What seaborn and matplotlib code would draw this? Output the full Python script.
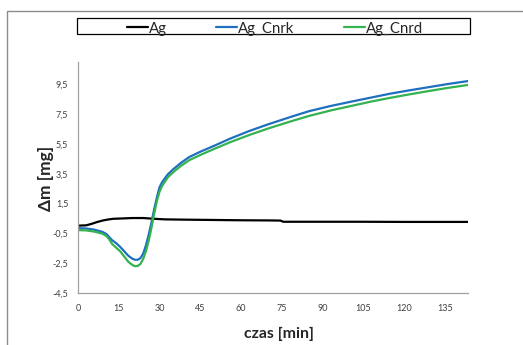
import numpy as np
import pandas as pd
import matplotlib
matplotlib.use("Agg")
import matplotlib.pyplot as plt
from matplotlib.patches import Rectangle
import seaborn as sns

# Ag - reference sample
t_ag = [0, 3, 5, 7, 9, 11, 13, 16, 20, 24, 28, 32, 40, 50, 60, 70, 74.5, 75.5, 90, 105, 120, 135, 143.5]
ag = [0.02, 0.04, 0.14, 0.26, 0.36, 0.43, 0.48, 0.5, 0.53, 0.53, 0.48, 0.44, 0.42, 0.4, 0.38, 0.37, 0.36,
      0.28, 0.28, 0.28, 0.27, 0.27, 0.27]

# Ag_Cnrk / Ag_Cnrd
t_cn = [0, 3, 6, 9, 10.5, 11.5, 12.5, 14, 15.5, 17, 18.5, 20, 21, 22, 23, 24, 25, 26, 27, 28, 29, 30, 31,
        33, 35, 38, 41, 45, 50, 56, 63, 70, 78, 85, 93, 100, 108, 115, 122, 129, 136, 143.5]
cnrk = [-0.15, -0.17, -0.25, -0.4, -0.55, -0.75, -0.95, -1.15, -1.4, -1.7, -2.0, -2.2, -2.27, -2.27, -2.15,
        -1.85, -1.3, -0.6, 0.2, 1.1, 1.9, 2.6, 2.95, 3.45, 3.8, 4.25, 4.63, 4.98, 5.37, 5.86, 6.37, 6.82,
        7.3, 7.7, 8.05, 8.32, 8.62, 8.88, 9.1, 9.31, 9.52, 9.72]
cnrd = [-0.28, -0.3, -0.38, -0.52, -0.68, -0.9, -1.2, -1.45, -1.7, -2.05, -2.4, -2.62, -2.7, -2.68, -2.55,
        -2.2, -1.7, -1.0, -0.15, 0.8, 1.65, 2.3, 2.7, 3.25, 3.6, 4.05, 4.42, 4.76, 5.16, 5.62, 6.1, 6.54,
        7.0, 7.38, 7.75, 8.03, 8.35, 8.6, 8.83, 9.05, 9.26, 9.46]

series = ["Ag", "Ag_Cnrk", "Ag_Cnrd"]
colors = ["#000000", "#1f6fc0", "#33b24f"]

x_ticks = [0, 15, 30, 45, 60, 75, 90, 105, 120, 135]
y_ticks = [-4.5, -2.5, -0.5, 1.5, 3.5, 5.5, 7.5, 9.5]

df = pd.concat([
    pd.DataFrame({"t": t_ag, "dm": ag, "seria": "Ag"}),
    pd.DataFrame({"t": t_cn, "dm": cnrk, "seria": "Ag_Cnrk"}),
    pd.DataFrame({"t": t_cn, "dm": cnrd, "seria": "Ag_Cnrd"}),
])

sns.set_theme(style="white")
plt.rcParams["font.family"] = ["Lato", "DejaVu Sans"]

fig = plt.figure(figsize=(5.23, 3.45), dpi=100)
W, H = 523, 345
ax = fig.add_axes([78 / W, 1 - 293 / H, 390 / W, 231 / H])

sns.lineplot(data=df, x="t", y="dm", hue="seria", hue_order=series, palette=colors,
             estimator=None, sort=False, linewidth=1.6, legend=False, ax=ax)

ax.set_xlim(0, 143.5)
ax.set_ylim(-4.5, 11)
ax.set_xticks(x_ticks)
ax.set_yticks(y_ticks)
ax.set_xticklabels([str(v) for v in x_ticks])
ax.set_yticklabels([f"{v:.1f}".replace(".", ",") for v in y_ticks])
ax.tick_params(axis="both", length=0, labelsize=6.5, colors="#404040")
ax.tick_params(axis="y", pad=7)
ax.tick_params(axis="x", pad=8)

for s in ["top", "right"]:
    ax.spines[s].set_visible(False)
for s in ["left", "bottom"]:
    ax.spines[s].set_color("#a0a0a0")
    ax.spines[s].set_linewidth(0.9)

ax.set_xlabel("czas [min]", fontsize=11.4, fontweight="bold")
ax.set_ylabel("Δm [mg]", fontsize=12.5, fontweight="bold")
ax.xaxis.set_label_coords((279 - 78) / 390, (293 - 334) / 231)
ax.yaxis.set_label_coords((46 - 78) / 390, (293 - 178.5) / 231)
ax.xaxis.label.set_va("center")
ax.yaxis.label.set_va("center")

# legend
handles = ax.get_lines()[:3]
leg = fig.legend(handles, series, loc="center", bbox_to_anchor=(275 / W, 1 - 28.5 / H), ncol=3,
                 frameon=False, fontsize=10.8, handlelength=1.4, handletextpad=0.05, columnspacing=3.3,
                 borderpad=0)
fig.add_artist(Rectangle((77 / W, 1 - 34 / H), 393 / W, 16 / H, transform=fig.transFigure,
                         fill=False, edgecolor="#000000", linewidth=0.9))

# chart area border
fig.add_artist(Rectangle((7 / W, -0.05), 1.1, 1 - 11 / H + 0.05, transform=fig.transFigure,
                         fill=False, edgecolor="#8c8c8c", linewidth=1.0))

fig.savefig("out.png", dpi=100)
